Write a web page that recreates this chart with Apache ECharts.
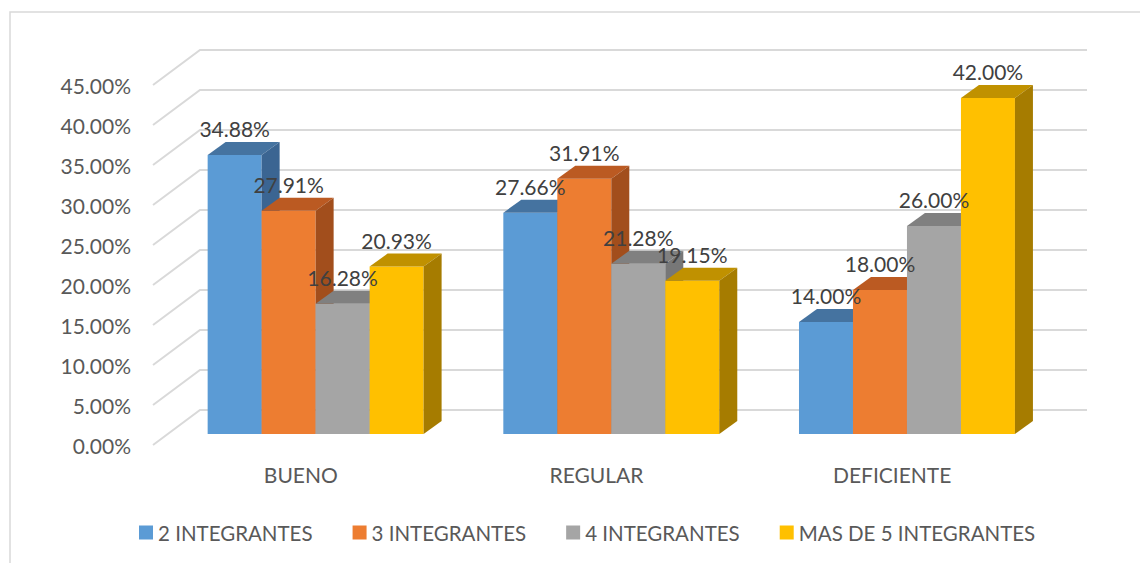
<!DOCTYPE html>
<html>
<head>
<meta charset="utf-8">
<script src="https://cdn.jsdelivr.net/npm/echarts@6/dist/echarts.min.js"></script>
<style>
  html, body { margin: 0; padding: 0; background: #fff; }
  #chart { width: 1140px; height: 563px; }
</style>
</head>
<body>
<div id="chart"></div>
<script>
// data
var categories = ['BUENO', 'REGULAR', 'DEFICIENTE'];
var seriesNames = ['2 INTEGRANTES', '3 INTEGRANTES', '4 INTEGRANTES', 'MAS DE 5 INTEGRANTES'];
var int2 = [34.88, 27.66, 14.00];
var int3 = [27.91, 31.91, 18.00];
var int4 = [16.28, 21.28, 26.00];
var int5 = [20.93, 19.15, 42.00];
var yTicks = [0, 5, 10, 15, 20, 25, 30, 35, 40, 45];

// colors: front, top, side
var faces = [
  ['#5B9BD5', '#4573A0', '#3B6592'],
  ['#ED7D31', '#BB5A22', '#A24E1C'],
  ['#A5A5A5', '#808080', '#777777'],
  ['#FFC000', '#C09100', '#A67C00']
];

var FONT = 'Lato';
var WALL_DX = 47, WALL_DY = 35;   // back wall offset from front plane
var BAR_DX = 14.8, BAR_DY = 11;   // bar front plane offset

function barRenderer(idx) {
  return function (params, api) {
    var cat = api.value(0), val = api.value(1);
    var top = api.coord([cat, val]);
    var base = api.coord([cat, 0]);
    var band = api.size([1, 0])[0];
    var w = band * 0.1826;
    var dx = w / 3, dy = w * 0.24;
    var x0 = top[0] + BAR_DX - 2 * w + idx * w;
    var yt = top[1] - BAR_DY, yb = base[1] - BAR_DY;
    var c = faces[idx];
    return {
      type: 'group',
      children: [
        { type: 'rect', shape: { x: x0, y: yt, width: w, height: yb - yt }, style: { fill: c[0] } },
        { type: 'polygon', shape: { points: [[x0, yt], [x0 + dx, yt - dy], [x0 + w + dx, yt - dy], [x0 + w, yt]] }, style: { fill: c[1] } },
        { type: 'polygon', shape: { points: [[x0 + w, yt], [x0 + w + dx, yt - dy], [x0 + w + dx, yb - dy], [x0 + w, yb]] }, style: { fill: c[2] } },
        { type: 'text', z2: 100, style: { text: val.toFixed(2) + '%', x: x0 + w / 2, y: yt - 16, align: 'center', verticalAlign: 'bottom', fill: '#404040', font: '21px ' + FONT } }
      ]
    };
  };
}

function wallRenderer(params, api) {
  var cs = params.coordSys;
  var y = api.coord([0, api.value(0)])[1];
  var x0 = cs.x;
  return {
    type: 'polyline',
    shape: { points: [[x0, y], [x0 + WALL_DX, y - WALL_DY], [x0 + cs.width + WALL_DX, y - WALL_DY]] },
    style: { stroke: '#D9D9D9', lineWidth: 2, fill: null }
  };
}

var chart = echarts.init(document.getElementById('chart'), null, { renderer: 'svg' });

var allData = [int2, int3, int4, int5];
var series = [{
  type: 'custom',
  name: 'walls',
  silent: true,
  renderItem: wallRenderer,
  data: yTicks.map(function (v) { return [v]; }),
  z: 1
}];
allData.forEach(function (arr, i) {
  series.push({
    type: 'custom',
    name: seriesNames[i],
    itemStyle: { color: faces[i][0] },
    renderItem: barRenderer(i),
    data: arr.map(function (v, j) { return [j, v]; }),
    z: 2
  });
});

var option = {
  backgroundColor: '#fff',
  animation: false,
  graphic: [{
    type: 'rect', silent: true,
    shape: { x: 10, y: 12, width: 1200, height: 600 },
    style: { fill: null, stroke: '#D9D9D9', lineWidth: 1.5 }
  }],
  grid: { left: 153, right: 100, top: 85, bottom: 118 },
  legend: {
    data: seriesNames,
    left: 139, top: 522,
    padding: 0,
    icon: 'rect',
    itemWidth: 14, itemHeight: 14, itemGap: 40,
    textStyle: { color: '#595959', fontFamily: FONT, fontSize: 20.5 }
  },
  xAxis: {
    type: 'category',
    data: categories,
    axisLine: { show: false },
    axisTick: { show: false },
    axisLabel: { color: '#595959', fontFamily: FONT, fontSize: 21, margin: 19 }
  },
  yAxis: {
    type: 'value',
    min: 0, max: 45, interval: 5,
    splitLine: { show: false },
    axisLine: { show: false },
    axisTick: { show: false },
    axisLabel: {
      color: '#595959', fontFamily: FONT, fontSize: 21, margin: 22,
      formatter: function (v) { return v.toFixed(2) + '%'; }
    }
  },
  series: series
};

chart.setOption(option);
</script>
</body>
</html>
